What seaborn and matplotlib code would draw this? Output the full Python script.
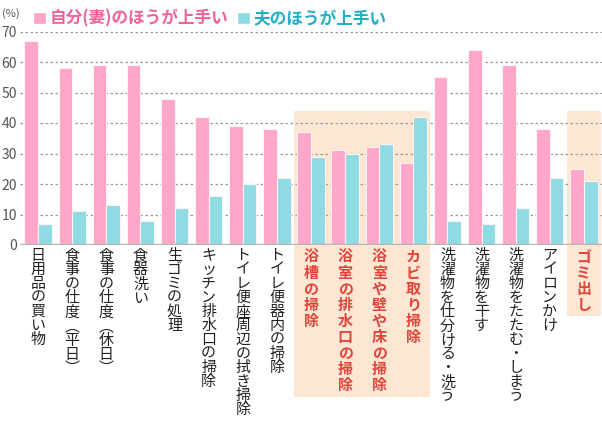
import seaborn as sns
import matplotlib.pyplot as plt
import pandas as pd
from matplotlib.patches import Rectangle, Patch

# chores (x-axis labels)
categories = [
    "日用品の買い物", "食事の仕度(平日)", "食事の仕度(休日)", "食器洗い",
    "生ゴミの処理", "キッチン排水口の掃除", "トイレ便座周辺の拭き掃除",
    "トイレ便器内の掃除", "浴槽の掃除", "浴室の排水口の掃除",
    "浴室や壁や床の掃除", "カビ取り掃除", "洗濯物を仕分ける・洗う",
    "洗濯物を干す", "洗濯物をたたむ・しまう", "アイロンかけ", "ゴミ出し",
]
wife = [67, 58, 59, 59, 48, 42, 39, 38, 37, 31, 32, 27, 55, 64, 59, 38, 25]
husband = [7, 11, 13, 8, 12, 16, 20, 22, 29, 30, 33, 42, 8, 7, 12, 22, 21]
series = ["自分(妻)のほうが上手い", "夫のほうが上手い"]
highlighted = ["浴槽の掃除", "浴室の排水口の掃除", "浴室や壁や床の掃除", "カビ取り掃除", "ゴミ出し"]
yticks = [0, 10, 20, 30, 40, 50, 60, 70]

pink = "#ffa6c9"
cyan = "#8edbe3"
red = "#e0443a"

df = pd.DataFrame({
    "item": categories * 2,
    "pct": wife + husband,
    "who": [series[0]] * len(categories) + [series[1]] * len(categories),
})

sns.set_style("white")
plt.rcParams["font.family"] = ["Noto Sans CJK JP", "DejaVu Sans"]

fig = plt.figure(figsize=(6.02, 4.33), dpi=100)
ax = fig.add_axes([20 / 602, 188 / 433, 582 / 602, 213.5 / 433])

sns.barplot(data=df, x="item", y="pct", hue="who", order=categories,
            palette=[pink, cyan], saturation=1, width=0.8, edgecolor="#fff0f5",
            linewidth=0.8, legend=False, ax=ax)

ax.set_xlim(-0.53, len(categories) - 0.47)
ax.set_ylim(0, 70)
ax.set_yticks(yticks)
ax.set_xticks([])
ax.set_xlabel("")
ax.set_ylabel("")
ax.tick_params(axis="y", length=0, pad=2, labelsize=10, labelcolor="#555555")
for s in ax.spines.values():
    s.set_visible(False)
ax.set_axisbelow(True)
ax.yaxis.grid(True, linestyle=(0, (2, 2)), color="#999999", linewidth=0.9)
ax.axhline(0, color="#b8b8b8", linewidth=2.5, zorder=3)

# shaded boxes behind the highlighted chores
runs = []
for i, c in enumerate(categories):
    if c in highlighted:
        if runs and runs[-1][1] == i - 1:
            runs[-1][1] = i
        else:
            runs.append([i, i])
for a, b in runs:
    bottom = -49.7 if b - a > 0 else -23.2
    ax.add_patch(Rectangle((a - 0.5, bottom), b - a + 1, 43.8 - bottom,
                           facecolor="#fde7d3", edgecolor="none",
                           zorder=0.2, clip_on=False))

# vertical labels
vert = str.maketrans({"(": "︵", ")": "︶"})
for i, c in enumerate(categories):
    hl = c in highlighted
    ax.text(i, -1.3, "\n".join(c.translate(vert)), ha="center", va="top",
            fontsize=10.8, linespacing=1.0, color=red if hl else "#222222",
            fontweight="bold" if hl else "normal", clip_on=False)

# legend
handles = [Patch(facecolor=pink), Patch(facecolor=cyan)]
leg = fig.legend(handles, series, loc="upper left", bbox_to_anchor=(18 / 602, 1.012),
                 ncol=2, frameon=False, handlelength=0.8, handleheight=0.8,
                 handletextpad=0.2, columnspacing=0.5,
                 prop={"size": 12, "weight": "bold"})
for t, col in zip(leg.get_texts(), ["#f0629c", "#22afc6"]):
    t.set_color(col)
fig.text(2 / 602, 1 - 14 / 433, "(%)", fontsize=8, color="#555555", va="center")

fig.savefig("out.png", dpi=100)
